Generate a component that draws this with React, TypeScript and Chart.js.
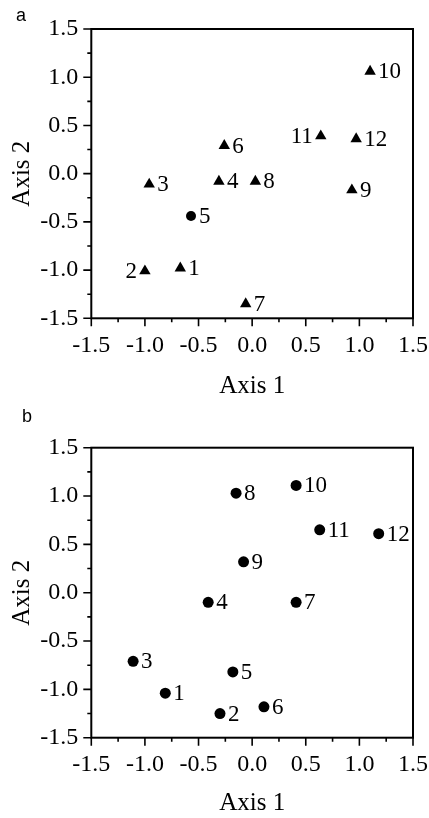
import React, { useEffect, useRef } from 'react';
import { Chart, registerables } from 'chart.js';

Chart.register(...registerables);

// ---- shared axis values ----
const majorTicks = [-1.5, -1.0, -0.5, 0.0, 0.5, 1.0, 1.5];
const minorTicks = [-1.25, -0.75, -0.25, 0.25, 0.75, 1.25];
const xTitle = 'Axis 1';
const yTitle = 'Axis 2';

// ---- panel a ----
const aIds = ['1', '2', '3', '4', '5', '6', '7', '8', '9', '10', '11', '12'];
const aX = [-0.67, -1.0, -0.96, -0.31, -0.57, -0.26, -0.06, 0.03, 0.93, 1.10, 0.64, 0.97];
const aY = [-0.98, -1.01, -0.11, -0.08, -0.44, 0.29, -1.35, -0.08, -0.17, 1.06, 0.39, 0.36];
const aGroup = ['T', 'T', 'T', 'T', 'C', 'T', 'T', 'T', 'T', 'T', 'T', 'T'];
const aSide = ['R', 'L', 'R', 'R', 'R', 'R', 'R', 'R', 'R', 'R', 'L', 'R'];

// ---- panel b ----
const bIds = ['1', '2', '3', '4', '5', '6', '7', '8', '9', '10', '11', '12'];
const bX = [-0.81, -0.30, -1.11, -0.41, -0.18, 0.11, 0.41, -0.15, -0.08, 0.41, 0.63, 1.18];
const bY = [-1.04, -1.25, -0.71, -0.10, -0.82, -1.18, -0.10, 1.03, 0.32, 1.11, 0.65, 0.61];
const bGroup = ['C', 'C', 'C', 'C', 'C', 'C', 'C', 'C', 'C', 'C', 'C', 'C'];
const bSide = ['R', 'R', 'R', 'R', 'R', 'R', 'R', 'R', 'R', 'R', 'R', 'R'];

const SERIF = '"Liberation Serif", "Times New Roman", serif';

const framePlugin = {
  id: 'frame',
  afterDraw(chart: any, _args: any, opts: any) {
    const { ctx, chartArea, scales } = chart;
    const { left, right, top, bottom } = chartArea;
    const x = scales.x;
    const y = scales.y;
    ctx.save();
    ctx.strokeStyle = '#000';
    ctx.lineWidth = 2;
    ctx.strokeRect(left, top, right - left, bottom - top);
    ctx.lineWidth = 1.6;
    ctx.beginPath();
    majorTicks.forEach((v) => {
      const px = x.getPixelForValue(v);
      ctx.moveTo(px, bottom);
      ctx.lineTo(px, bottom + 8);
      const py = y.getPixelForValue(v);
      ctx.moveTo(left, py);
      ctx.lineTo(left - 8, py);
    });
    minorTicks.forEach((v) => {
      const px = x.getPixelForValue(v);
      ctx.moveTo(px, bottom);
      ctx.lineTo(px, bottom + 4);
      const py = y.getPixelForValue(v);
      ctx.moveTo(left, py);
      ctx.lineTo(left - 4, py);
    });
    ctx.stroke();
    ctx.fillStyle = '#000';
    ctx.font = '18px "Liberation Sans", Arial, sans-serif';
    ctx.textAlign = 'left';
    ctx.textBaseline = 'alphabetic';
    ctx.fillText(opts.letter, opts.letterX, opts.letterY);
    ctx.restore();
  },
};

const labelPlugin = {
  id: 'pointLabels',
  afterDatasetsDraw(chart: any) {
    const { ctx } = chart;
    ctx.save();
    ctx.fillStyle = '#000';
    ctx.font = `23px ${SERIF}`;
    ctx.textBaseline = 'middle';
    chart.data.datasets.forEach((ds: any, di: number) => {
      const meta = chart.getDatasetMeta(di);
      meta.data.forEach((el: any, i: number) => {
        const d = ds.data[i];
        if (d.side === 'L') {
          ctx.textAlign = 'right';
          ctx.fillText(d.label, el.x - 8, el.y + 1);
        } else {
          ctx.textAlign = 'left';
          ctx.fillText(d.label, el.x + 8, el.y + 1);
        }
      });
    });
    ctx.restore();
  },
};

function buildDatasets(ids: string[], xs: number[], ys: number[], groups: string[], sides: string[], circleR: number) {
  const groupsUsed = ['T', 'C'];
  return groupsUsed
    .map((g) => {
      const pts = ids
        .map((id, i) => ({ x: xs[i], y: ys[i], label: id, side: sides[i], g: groups[i] }))
        .filter((p) => p.g === g);
      return {
        label: g === 'T' ? 'triangle' : 'circle',
        data: pts,
        pointStyle: g === 'T' ? 'triangle' : 'circle',
        pointRadius: g === 'T' ? 6.6 : circleR,
        pointHoverRadius: g === 'T' ? 6.6 : circleR,
        backgroundColor: '#000',
        borderColor: '#000',
        borderWidth: 0,
        showLine: false,
      };
    })
    .filter((ds) => ds.data.length > 0);
}

function makeConfig(
  datasets: any[],
  padTop: number,
  xAxisHeight: number,
  xTitlePadBottom: number,
  letter: string,
  letterX: number,
  letterY: number
): any {
  return {
    type: 'scatter',
    data: { datasets },
    plugins: [framePlugin, labelPlugin],
    options: {
      responsive: false,
      animation: false,
      events: [],
      layout: { padding: { top: padTop, right: 16, left: 0, bottom: 0 } },
      plugins: {
        legend: { display: false },
        tooltip: { enabled: false },
        frame: { letter, letterX, letterY },
      },
      scales: {
        x: {
          type: 'linear',
          min: -1.5,
          max: 1.5,
          afterBuildTicks: (scale: any) => {
            scale.ticks = majorTicks.map((v) => ({ value: v }));
          },
          afterFit: (scale: any) => {
            scale.height = xAxisHeight;
            scale.paddingLeft = 0;
            scale.paddingRight = 0;
          },
          grid: { display: true, drawOnChartArea: false, drawTicks: false },
          border: { display: false },
          ticks: {
            color: '#000',
            padding: 13,
            maxRotation: 0,
            autoSkip: false,
            font: { family: SERIF, size: 24 },
            callback: (v: any) => Number(v).toFixed(1),
          },
          title: {
            display: true,
            text: xTitle,
            color: '#000',
            font: { family: SERIF, size: 25 },
            padding: { top: 0, bottom: xTitlePadBottom },
          },
        },
        y: {
          type: 'linear',
          min: -1.5,
          max: 1.5,
          afterBuildTicks: (scale: any) => {
            scale.ticks = majorTicks.map((v) => ({ value: v }));
          },
          afterFit: (scale: any) => {
            scale.width = 91.3;
            scale.paddingTop = 0;
            scale.paddingBottom = 0;
          },
          grid: { display: true, drawOnChartArea: false, drawTicks: false },
          border: { display: false },
          ticks: {
            color: '#000',
            padding: 13,
            autoSkip: false,
            font: { family: SERIF, size: 24 },
            callback: (v: any) => Number(v).toFixed(1),
          },
          title: {
            display: true,
            text: yTitle,
            color: '#000',
            font: { family: SERIF, size: 25 },
            padding: { top: 7, bottom: 0 },
          },
        },
      },
    },
  };
}

function Panel(props: { config: any; top: number }) {
  const ref = useRef<HTMLCanvasElement | null>(null);
  useEffect(() => {
    if (!ref.current) return;
    const chart = new Chart(ref.current, props.config);
    return () => chart.destroy();
  }, []);
  return (
    <canvas
      ref={ref}
      width={429}
      height={409}
      style={{ position: 'absolute', left: 0, top: props.top, width: 429, height: 409, display: 'block' }}
    />
  );
}

export default function App() {
  const configA = makeConfig(buildDatasets(aIds, aX, aY, aGroup, aSide, 5), 29, 90.7, 8, 'a', 16, 21);
  const configB = makeConfig(buildDatasets(bIds, bX, bY, bGroup, bSide, 5.5), 38.7, 80.3, 0, 'b', 22, 13);
  return (
    <div style={{ position: 'absolute', left: 0, top: 0, width: 429, height: 818, background: '#fff' }}>
      <Panel config={configA} top={0} />
      <Panel config={configB} top={409} />
    </div>
  );
}
